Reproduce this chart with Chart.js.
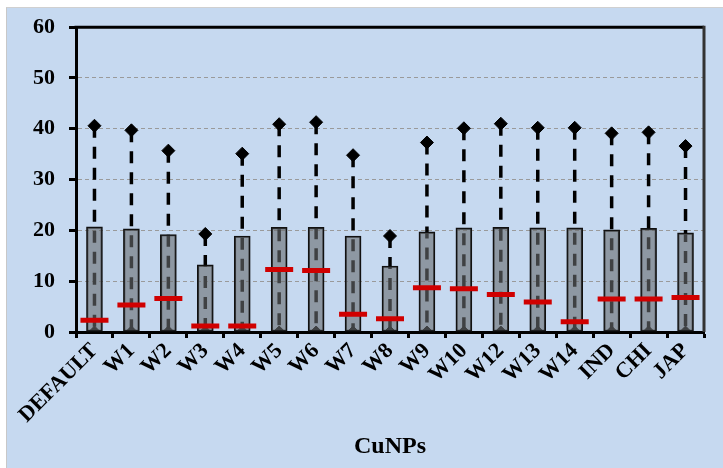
<!DOCTYPE html>
<html>
<head>
<meta charset="utf-8">
<script src="https://cdn.jsdelivr.net/npm/chart.js@4"></script>
<style>
  html, body { margin: 0; padding: 0; background: #fff; }
  #panel {
    position: absolute; left: 6px; top: 7px; width: 717px; height: 461px;
    background: #c6d9f0; border-left: 1px solid #c8c8c8; border-top: 1px solid #d0d0d0;
  }
  #wrap { position: absolute; left: 0; top: 0; width: 723px; height: 468px; }
</style>
</head>
<body>
<div id="panel"></div>
<div id="wrap"><canvas id="boxChart"></canvas></div>
<script>
const categories = ["DEFAULT", "W1", "W2", "W3", "W4", "W5", "W6", "W7", "W8", "W9", "W10", "W12", "W13", "W14", "IND", "CHI", "JAP"];
const maxValues = [40.6, 39.7, 35.7, 19.3, 35.1, 40.9, 41.3, 34.8, 18.9, 37.3, 40.1, 41.0, 40.2, 40.2, 39.1, 39.3, 36.6];
const q3Values = [20.7, 20.3, 19.2, 13.2, 18.9, 20.6, 20.6, 18.9, 13.0, 19.7, 20.5, 20.6, 20.5, 20.5, 20.1, 20.4, 19.5];
const medianValues = [2.3, 5.3, 6.6, 1.2, 1.2, 12.3, 12.1, 3.5, 2.6, 8.7, 8.5, 7.4, 5.9, 2.0, 6.5, 6.5, 6.8];
const minValues = categories.map(() => 0);
const yTicks = [0, 10, 20, 30, 40, 50, 60];

const serif = "'Liberation Serif', 'Times New Roman', serif";

// dashed whiskers from min to max, drawn under the boxes
const whiskerPlugin = {
  id: "whiskers",
  beforeDatasetsDraw(chart) {
    const ctx = chart.ctx;
    const x = chart.scales.x, y = chart.scales.y;
    ctx.save();
    ctx.strokeStyle = "#000";
    ctx.lineWidth = 3.5;
    ctx.setLineDash([12, 9]);
    categories.forEach((c, i) => {
      const px = x.getPixelForValue(i);
      ctx.beginPath();
      ctx.moveTo(px, y.getPixelForValue(maxValues[i]));
      ctx.lineTo(px, y.getPixelForValue(minValues[i]));
      ctx.stroke();
    });
    ctx.restore();
  },
  afterDraw(chart) {
    const ctx = chart.ctx;
    const a = chart.chartArea;
    ctx.save();
    ctx.strokeStyle = "#000";
    ctx.lineWidth = 3;
    ctx.beginPath();
    ctx.moveTo(a.left - 1.5, a.top);
    ctx.lineTo(a.right, a.top);
    ctx.stroke();
    ctx.strokeStyle = "#333";
    ctx.beginPath();
    ctx.moveTo(a.right, a.top - 1.5);
    ctx.lineTo(a.right, a.bottom);
    ctx.stroke();
    ctx.restore();
  }
};

new Chart(document.getElementById("boxChart"), {
  type: "bar",
  data: {
    labels: categories,
    datasets: [
      {
        type: "line",
        data: minValues,
        showLine: false,
        pointStyle: "rectRot",
        pointRadius: 6,
        pointBackgroundColor: "#000",
        pointBorderColor: "#000",
        clip: 0,
        order: 4
      },
      {
        data: q3Values.map((v, i) => [minValues[i], v]),
        backgroundColor: "rgba(105,108,112,0.6)",
        borderColor: "#111",
        borderWidth: 1.5,
        borderSkipped: false,
        barThickness: 16,
        order: 3
      },
      {
        type: "line",
        data: maxValues,
        showLine: false,
        pointStyle: "rectRot",
        pointRadius: 6.5,
        pointBackgroundColor: "#000",
        pointBorderColor: "#000",
        order: 2
      },
      {
        type: "line",
        data: medianValues,
        showLine: false,
        pointStyle: "line",
        pointRadius: 14,
        pointBorderWidth: 5,
        pointBorderColor: "#d00000",
        order: 1
      }
    ]
  },
  options: {
    responsive: true,
    maintainAspectRatio: false,
    animation: false,
    layout: { padding: { left: 0, top: 15, right: 8, bottom: 0 } },
    plugins: { legend: { display: false }, tooltip: { enabled: false } },
    scales: {
      y: {
        min: 0,
        max: 60,
        afterFit: s => { s.width = 76; },
        afterBuildTicks: s => { s.ticks = yTicks.map(v => ({ value: v })); },
        ticks: { color: "#000", padding: 14, font: { family: serif, size: 22, weight: "bold" } },
        grid: {
          color: ctx => (ctx.tick && ctx.tick.value > 0 && ctx.tick.value < 60) ? "#9a9a9a" : "rgba(0,0,0,0)",
          lineWidth: 1,
          tickColor: "#000",
          tickWidth: 3,
          tickLength: 7
        },
        border: { display: true, color: "#000", width: 3, dash: [4, 3] }
      },
      x: {
        offset: true,
        afterFit: s => { s.height = 136; },
        ticks: {
          color: "#000",
          minRotation: 45,
          maxRotation: 45,
          padding: 0,
          autoSkip: false,
          font: { family: serif, size: 22, weight: "bold" }
        },
        grid: {
          offset: true,
          drawOnChartArea: false,
          tickColor: "#000",
          tickWidth: 3,
          tickLength: 6
        },
        border: { display: true, color: "#000", width: 3 },
        title: {
          display: true,
          text: "CuNPs",
          color: "#000",
          padding: { top: 0, bottom: 7 },
          font: { family: serif, size: 24, weight: "bold" }
        }
      }
    }
  },
  plugins: [whiskerPlugin]
});
</script>
</body>
</html>
